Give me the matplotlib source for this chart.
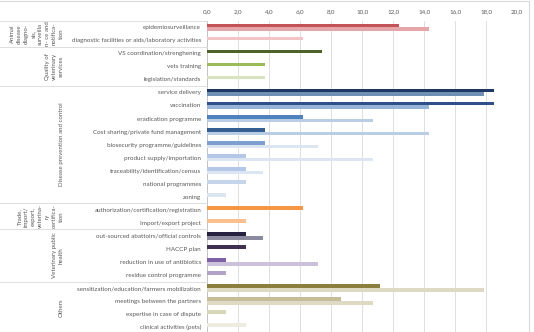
import matplotlib
matplotlib.use("Agg")
import matplotlib.pyplot as plt
from matplotlib.lines import Line2D
import matplotlib.transforms as mtransforms

plt.rcParams['font.family'] = ['Lato', 'DejaVu Sans']

categories = [
    "epidemiosurveillance",
    "diagnostic facilities or aids/laboratory activities",
    "VS coordination/strenghening",
    "vets training",
    "legislation/standards",
    "service delivery",
    "vaccination",
    "eradication programme",
    "Cost sharing/private fund management",
    "biosecurity programme/guidelines",
    "product supply/importation",
    "traceability/identification/census",
    "national programmes",
    "zoning",
    "authorization/certification/registration",
    "Import/export project",
    "out-sourced abattoirs/official controls",
    "HACCP plan",
    "reduction in use of antibiotics",
    "residue control programme",
    "sensitization/education/farmers mobilization",
    "meetings between the partners",
    "expertise in case of dispute",
    "clinical activities (pets)",
]

series_a = [12.35, 6.17, 7.41, 3.70, 3.70, 18.52, 18.52, 6.17, 3.70, 3.70, 2.47, 2.47,
            2.47, 1.23, 6.17, 2.47, 2.47, 2.47, 1.23, 1.23, 11.11, 8.64, 1.23, 2.47]
series_b = [14.29, 0, 0, 0, 0, 17.86, 14.29, 10.71, 14.29, 7.14, 10.71, 3.57,
            0, 0, 0, 0, 3.57, 0, 7.14, 0, 17.86, 10.71, 0, 0]

colors_a = ["#c4525a", "#f2c4c6", "#4f6228", "#9bbb59", "#d7e4bd", "#1f3864", "#2e4f8a",
            "#4f81bd", "#366092", "#7f9fcf", "#b4c7e7", "#b4c7e7", "#c6d5ec", "#dce6f2",
            "#f79646", "#fac090", "#262140", "#403152", "#7f61a8", "#b3a2c7",
            "#8c7e3f", "#c4bd97", "#d8d8b8", "#eeece1"]
colors_b = ["#e6a5a8", "#ffffff", "#ffffff", "#ffffff", "#ffffff", "#6f8fb5", "#95b3d7",
            "#b9cde5", "#b9cde5", "#dce6f2", "#dce6f2", "#dce6f2", "#ffffff", "#ffffff",
            "#ffffff", "#ffffff", "#8b8ba0", "#ffffff", "#ccc1da", "#ffffff",
            "#ddd9c3", "#ddd9c3", "#ffffff", "#ffffff"]

groups = [
    ("Animal\ndisease\ndiagno-\nsis,\nsurveilla\nn- ce and\nnotifica-\ntion", 0, 1),
    ("Quality of\nveterinary\nservices", 2, 4),
    ("Disease prevention and control", 5, 13),
    ("Trade,\nimport/\nexport,\nveterina-\nry\ncertifica-\ntion", 14, 15),
    ("Veterinary public\nhealth", 16, 19),
    ("Others", 20, 23),
]

xticks = [0, 2, 4, 6, 8, 10, 12, 14, 16, 18, 20]

W, H = 534, 332
fig = plt.figure(figsize=(W / 100, H / 100), dpi=100)
left_px, right_px, top_px, bot_px = 207.3, 517.3, 20.7, 333.7
ax = fig.add_axes([left_px / W, 1 - bot_px / H, (right_px - left_px) / W, (bot_px - top_px) / H])

y = list(range(len(categories)))
off = 0.142
h = 0.285
ax.barh([v - off for v in y], series_a, height=h, color=colors_a, zorder=3)
ax.barh([v + off for v in y], series_b, height=h, color=colors_b, zorder=3)

ax.set_xlim(0, 20)
ax.set_ylim(len(categories) - 0.5, -0.5)
ax.xaxis.tick_top()
ax.set_xticks(xticks)
ax.set_xticklabels([f"{t:.1f}".replace(".", ",") for t in xticks], fontsize=4.5, color="#595959")
ax.set_yticks(y)
ax.set_yticklabels(categories, fontsize=4.5, color="#595959")
ax.tick_params(axis="both", length=0)
ax.tick_params(axis="x", pad=4.5)
ax.tick_params(axis="y", pad=4.5)
ax.grid(axis="x", color="#d9d9d9", linewidth=0.6, zorder=0)
for s in ["top", "right", "bottom"]:
    ax.spines[s].set_visible(False)
ax.spines["left"].set_color("#bfbfbf")
ax.spines["left"].set_linewidth(0.6)

# group separators and labels
trans = mtransforms.blended_transform_factory(fig.transFigure, ax.transData)
bounds = [-0.5] + [g[2] + 0.5 for g in groups[:-1]]
for b in bounds:
    fig.add_artist(Line2D([0, left_px / W], [b, b], transform=trans, color="#d9d9d9", linewidth=0.6))
for name, a, b in groups:
    fig.text(64 / W, (a + b) / 2, name, transform=trans, rotation=90, ha="right", va="center",
             fontsize=4.4, color="#595959", linespacing=1.5, multialignment="center")

# outer frame
fig.add_artist(Line2D([0, 529 / W], [1 - 1.2 / H, 1 - 1.2 / H], transform=fig.transFigure, color="#d9d9d9", linewidth=0.8))
fig.add_artist(Line2D([529 / W, 529 / W], [0, 1 - 1.2 / H], transform=fig.transFigure, color="#d9d9d9", linewidth=0.8))

fig.savefig("out.png", dpi=100)
